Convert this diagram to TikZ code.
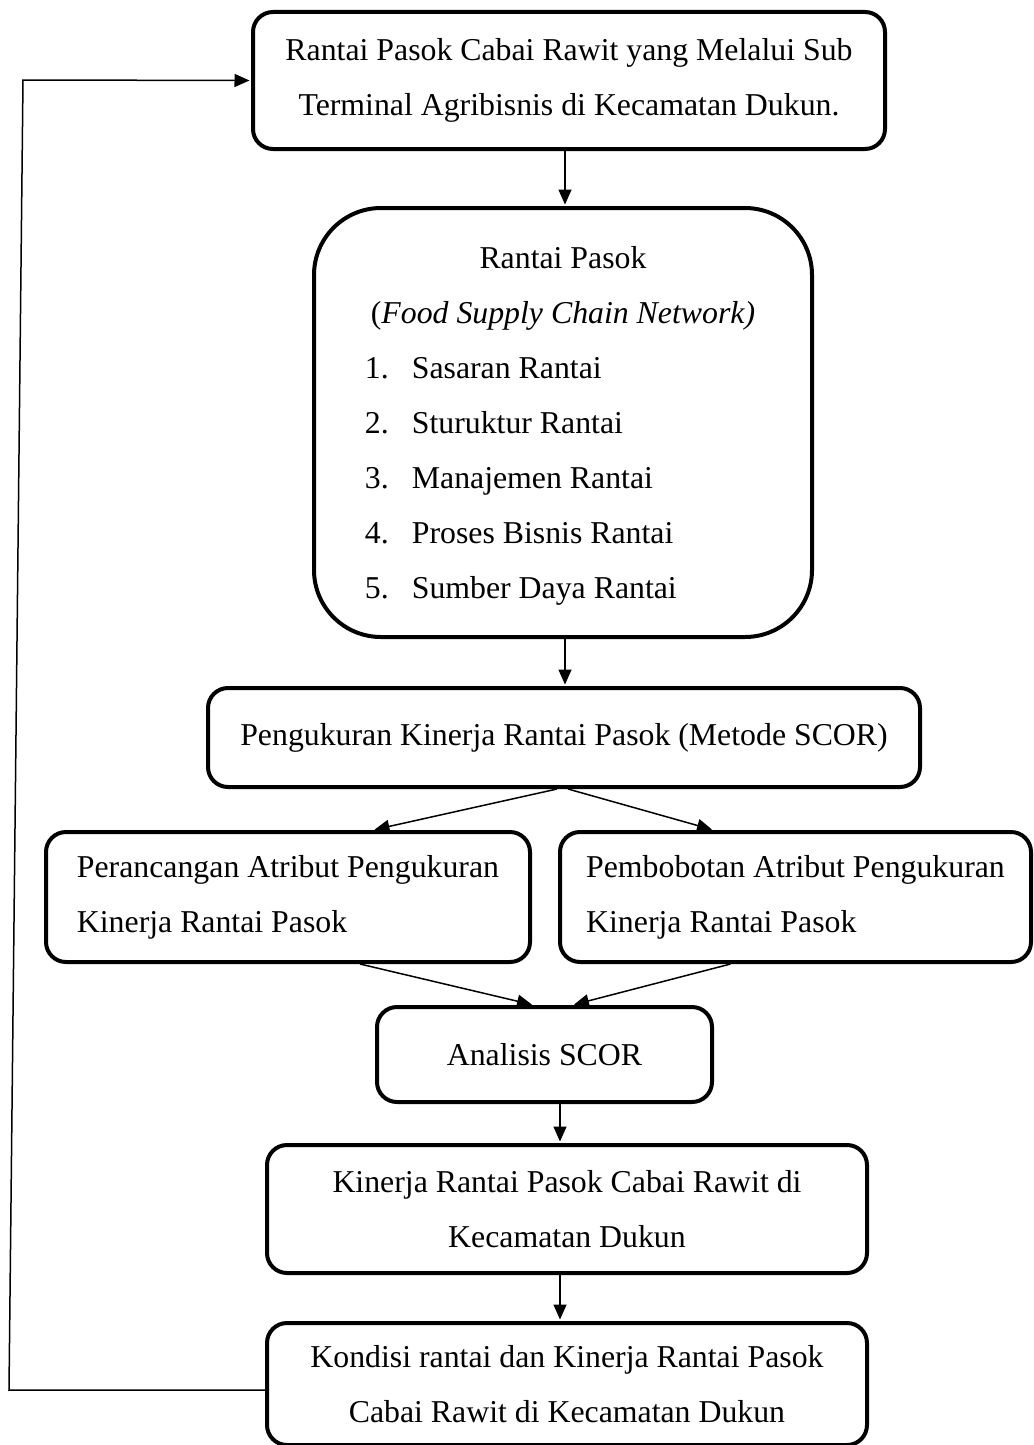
\documentclass[tikz,border=0pt]{standalone}
\usepackage{fontspec}
\setmainfont{Liberation Serif}
\usetikzlibrary{calc,positioning,arrows.meta}

\tikzset{
  blok/.style={draw, line width=4pt, rounded corners=20pt, align=center,
    font=\fontsize{31.8}{55}\selectfont},
  panah/.style={-{Triangle[length=15pt,width=13pt]}, line width=1.5pt, shorten >=1.5pt},
}

\begin{document}
\begin{tikzpicture}[x=1pt,y=-1pt]
        \useasboundingbox (0,0) rectangle (1033,1445);
        \coordinate (sumbuA) at (565,0);
        \coordinate (sumbuB) at (560,0);
        \coordinate (balikBawah) at (9,1390);
        \coordinate (balikAtas) at (23,80);

        \node[blok, minimum width=632, minimum height=137] (subterminal) at (569,80.5)
            {Rantai Pasok Cabai Rawit yang Melalui Sub\\Terminal Agribisnis di Kecamatan Dukun.};
        \node[blok, rounded corners=67pt, minimum width=498, minimum height=429] (rantai) at (563,422.5)
            {\begin{tabular}{@{}p{47pt}@{}l@{}}
              \multicolumn{2}{c}{Rantai Pasok}\\
              \multicolumn{2}{c}{(\textit{Food Supply Chain Network)}}\\
              1. & Sasaran Rantai\\
              2. & Sturuktur Rantai\\
              3. & Manajemen Rantai\\
              4. & Proses Bisnis Rantai\\
              5. & Sumber Daya Rantai
             \end{tabular}};
        \node[blok, minimum width=712, minimum height=99] (pengukuran) at (564,737.5)
            {Pengukuran Kinerja Rantai Pasok (Metode SCOR)};
        \node[blok, align=left, minimum width=484, minimum height=130] (perancangan) at (288,897)
            {Perancangan Atribut Pengukuran\\Kinerja Rantai Pasok};
        \node[blok, align=left, minimum width=471, minimum height=130] (pembobotan) at (795.5,897)
            {Pembobotan Atribut Pengukuran\\Kinerja Rantai Pasok};
        \node[blok, minimum width=335, minimum height=95] (analisis) at (544.5,1054.5)
            {Analisis SCOR};
        \node[blok, minimum width=600, minimum height=128] (kinerja) at (567,1209)
            {Kinerja Rantai Pasok Cabai Rawit di\\Kecamatan Dukun};
        \node[blok, minimum width=600, minimum height=122] (kondisi) at (567,1384)
            {Kondisi rantai dan Kinerja Rantai Pasok\\Cabai Rawit di Kecamatan Dukun};

        \draw[panah] (subterminal.south -| sumbuA) -- (rantai.north -| sumbuA);
        \draw[panah] (rantai.south -| sumbuA) -- (pengukuran.north -| sumbuA);
        \draw[panah] ($(pengukuran.south)+(-7,0)$) -- ($(perancangan.north)+(85,0)$);
        \draw[panah] ($(pengukuran.south)+(4,0)$) -- ($(pembobotan.north)+(-82,0)$);
        \draw[panah] ($(perancangan.south)+(72,0)$) -- ($(analisis.north)+(-11,0)$);
        \draw[panah] ($(pembobotan.south)+(-65,0)$) -- ($(analisis.north)+(28,0)$);
        \draw[panah] (analisis.south -| sumbuB) -- (kinerja.north -| sumbuB);
        \draw[panah] (kinerja.south -| sumbuB) -- (kondisi.north -| sumbuB);
        \draw[panah] (kondisi.west |- balikBawah) -- (balikBawah) -- (balikAtas) -- (subterminal.west);
\end{tikzpicture}
\end{document}
